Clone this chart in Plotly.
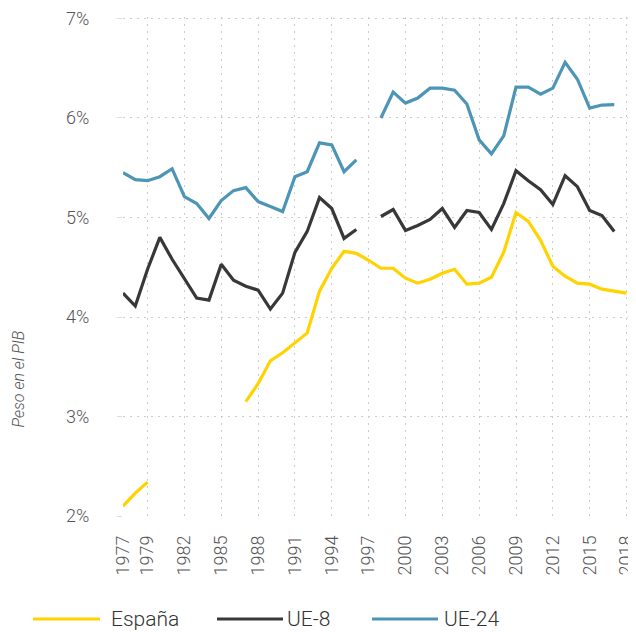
import plotly.graph_objects as go

years = list(range(1977, 2019))

espana = {
    1977: 2.10, 1978: 2.23, 1979: 2.34,
    1987: 3.15, 1988: 3.33, 1989: 3.56, 1990: 3.64, 1991: 3.74, 1992: 3.84,
    1993: 4.26, 1994: 4.49, 1995: 4.66, 1996: 4.64, 1997: 4.57, 1998: 4.49,
    1999: 4.49, 2000: 4.39, 2001: 4.34, 2002: 4.38, 2003: 4.44, 2004: 4.48,
    2005: 4.33, 2006: 4.34, 2007: 4.40, 2008: 4.65, 2009: 5.05, 2010: 4.96,
    2011: 4.77, 2012: 4.51, 2013: 4.41, 2014: 4.34, 2015: 4.33, 2016: 4.28,
    2017: 4.26, 2018: 4.24,
}
ue8 = {
    1977: 4.24, 1978: 4.11, 1979: 4.48, 1980: 4.80, 1981: 4.58, 1982: 4.39,
    1983: 4.19, 1984: 4.17, 1985: 4.53, 1986: 4.37, 1987: 4.31, 1988: 4.27,
    1989: 4.08, 1990: 4.24, 1991: 4.65, 1992: 4.86, 1993: 5.20, 1994: 5.09,
    1995: 4.79, 1996: 4.88,
    1998: 5.01, 1999: 5.08, 2000: 4.87, 2001: 4.92, 2002: 4.98, 2003: 5.09,
    2004: 4.90, 2005: 5.07, 2006: 5.05, 2007: 4.88, 2008: 5.14, 2009: 5.47,
    2010: 5.37, 2011: 5.28, 2012: 5.13, 2013: 5.42, 2014: 5.31, 2015: 5.07,
    2016: 5.02, 2017: 4.86,
}
ue24 = {
    1977: 5.45, 1978: 5.38, 1979: 5.37, 1980: 5.41, 1981: 5.49, 1982: 5.21,
    1983: 5.14, 1984: 4.99, 1985: 5.17, 1986: 5.27, 1987: 5.30, 1988: 5.16,
    1989: 5.11, 1990: 5.06, 1991: 5.41, 1992: 5.46, 1993: 5.75, 1994: 5.73,
    1995: 5.46, 1996: 5.58,
    1998: 6.00, 1999: 6.26, 2000: 6.15, 2001: 6.20, 2002: 6.30, 2003: 6.30,
    2004: 6.28, 2005: 6.14, 2006: 5.78, 2007: 5.64, 2008: 5.82, 2009: 6.31,
    2010: 6.31, 2011: 6.24, 2012: 6.30, 2013: 6.56, 2014: 6.39, 2015: 6.10,
    2016: 6.13, 2017: 6.135,
}

series_names = ["España", "UE-8", "UE-24"]
series_data = [espana, ue8, ue24]
series_colors = ["#FFD200", "#383838", "#4D95B6"]

xtick_vals = [1977, 1979, 1982, 1985, 1988, 1991, 1994, 1997, 2000, 2003,
              2006, 2009, 2012, 2015, 2018]
ytick_vals = [2, 3, 4, 5, 6, 7]
ytick_text = ["2%", "3%", "4%", "5%", "6%", "7%"]

# page body has an 8px default margin -> figure starts at (8, 8)
OFF = 8
W, H = 636 - OFF, 632 - OFF
L, R, T, B = 123 - OFF, 8, 17 - OFF, 116
PW, PH = W - L - R, H - T - B

def px2paper(xp, yp):
    # xp, yp in page pixels
    return (xp - OFF - L) / PW, (H - B - (yp - OFF)) / PH

FONT = "Roboto"
GRID = dict(showgrid=True, gridcolor="#cccccc", griddash="2px,5px", gridwidth=1)

fig = go.Figure()
for name, data, color in zip(series_names, series_data, series_colors):
    fig.add_trace(go.Scatter(
        x=years, y=[data.get(yr) for yr in years], name=name,
        mode="lines", line=dict(color=color, width=3.2),
        connectgaps=False, showlegend=False,
    ))

fig.update_layout(
    width=W, height=H,
    margin=dict(l=L, r=R, t=T, b=B, pad=0),
    plot_bgcolor="white", paper_bgcolor="white",
    font=dict(family=FONT, color="#555"),
    xaxis=dict(
        range=[1977, 2018.12], tickvals=xtick_vals,
        ticktext=[str(v) for v in xtick_vals], automargin=False,
        tickangle=-90, **GRID, ticklabeloverflow="allow",
        zeroline=False, showline=False, ticks="", ticklabelstandoff=15,
        tickfont=dict(family=FONT, size=18, color="#555", weight=300),
    ),
    yaxis=dict(
        range=[2, 7.015], tickvals=ytick_vals, ticktext=ytick_text,
        **GRID, ticklabeloverflow="allow", automargin=False,
        zeroline=False, showline=False, ticks="outside", ticklen=5,
        tickcolor="#dcdcdc", ticklabelstandoff=24,
        tickfont=dict(family=FONT, size=18, color="#555", weight=300),
    ),
)

tx, ty = px2paper(17.5, 379)
fig.add_annotation(
    text="Peso en el PIB", x=tx, y=ty, xref="paper", yref="paper",
    xanchor="center", yanchor="middle", textangle=-90, showarrow=False,
    font=dict(family=FONT, size=16, color="#555", style="italic", weight=300),
)

legend_items = [(33, 100, 109), (217, 283, 285), (372, 438, 442)]
for (x0, x1, xt), name, color in zip(legend_items, series_names, series_colors):
    a0, yy = px2paper(x0, 619)
    a1, _ = px2paper(x1, 619)
    at, _ = px2paper(xt, 619)
    fig.add_shape(type="line", xref="paper", yref="paper", x0=a0, x1=a1,
                  y0=yy, y1=yy, line=dict(color=color, width=3.2))
    fig.add_annotation(text=name, x=at, y=yy, xref="paper", yref="paper",
                       xanchor="left", yanchor="middle", showarrow=False,
                       font=dict(family=FONT, size=21, color="#333", weight=300))

fig.write_html("out.html")
